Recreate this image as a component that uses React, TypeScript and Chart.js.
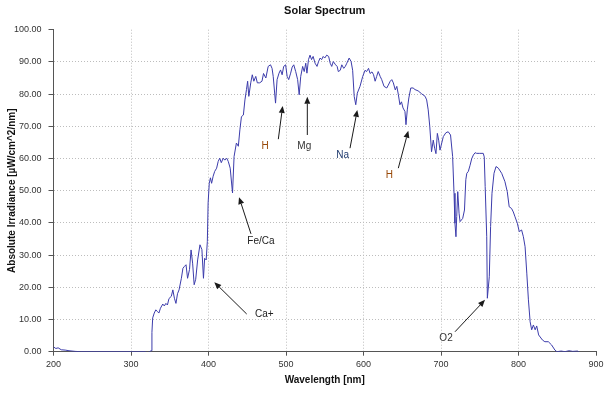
import React, { useEffect, useRef } from 'react';
import { Chart, registerables } from 'chart.js';

Chart.register(...registerables);

const chartTitle = 'Solar Spectrum';
const xTitle = 'Wavelength [nm]';
const yTitle = 'Absolute Irradiance [µW/cm^2/nm]';

const wavelengths = [
  200, 203, 206, 210, 215, 220, 228, 235, 300, 318, 321, 324, 326, 327, 328, 330, 332, 334, 336, 338,
  341, 343, 345, 347, 349, 352, 354, 356, 358, 360, 362, 365, 367, 369, 371, 373, 375.5, 377.5, 379.5, 381.5,
  383.5, 386, 389, 391.5, 393.5, 395, 397, 398.5, 399.5, 401, 402.5, 404, 406, 408, 410.5, 412.5, 414.5, 416.5, 419, 421,
  423.5, 425.5, 428, 431, 433, 436, 438.5, 440.5, 442.5, 445, 447, 449, 450.5, 452, 454.5, 456.5, 458.5, 461, 463, 466,
  469, 471, 474, 477, 480, 482, 483.5, 486.5, 488.5, 491, 493, 495, 497, 499.5, 501.5, 503.5, 506, 508, 510, 512.5,
  515, 517, 519, 521.5, 523.5, 525.5, 527, 529, 531, 533, 535, 537.5, 540, 542, 544, 546, 548, 550, 552.5, 555,
  557, 559, 561, 564, 566, 567.5, 570, 572, 574.5, 576.5, 578.5, 581.5, 584, 586, 588, 590, 592, 595.5, 599, 602,
  604, 606.5, 608.5, 611, 613, 615, 617, 619, 621.5, 623.5, 626.5, 630, 632, 634.5, 636.5, 638.5, 641, 643, 645, 647,
  649, 651, 653.5, 654.8, 656.5, 658.5, 661, 664, 666.5, 670.5, 675, 679.5, 681.5, 683.5, 685.5, 687.8, 690, 691.8, 693.5, 695.3,
  697, 698.7, 703, 706.3, 709.3, 712.3, 715, 716.8, 718, 719.3, 720.3, 721.6, 723.3, 724.6, 728, 730.3, 732, 733.3, 735.3, 737.5,
  739.7, 741.8, 744, 746, 750, 754.5, 755.8, 757, 759, 759.8, 762.3, 764, 765.8, 768.4, 771, 774, 778.3, 782.5, 785.5, 788,
  791, 793.3, 795.5, 798.5, 801, 804, 806.3, 808.5, 810.7, 812.8, 815, 817, 819.2, 821.5, 823.5, 826, 831, 834, 838.5, 842.7,
  847, 849.5, 855, 860, 865, 870, 876, 878
];

const irradiance = [
  1.5, 1.0, 1.2, 0.6, 0.5, 0.3, 0.1, 0, 0, 0, -0.3, 0, 0.3, 6, 10.5, 12.0, 13.0, 12.5, 12.0, 13.5,
  14.8, 14.2, 15.0, 14.5, 16.5, 17.2, 19.2, 16.6, 15.0, 18.0, 19.2, 22.8, 25.9, 26.5, 27.0, 22.8, 25.5, 31.6, 27.5, 20.8,
  22.5, 28.5, 33.2, 31.7, 22.8, 29.0, 28.5, 34.2, 46.2, 52.3, 54.0, 52.3, 54.5, 56.0, 57.0, 59.1, 60.1, 58.7, 60.1, 59.5,
  60.1, 59.1, 57.0, 49.3, 60.6, 64.8, 63.8, 68.9, 73.0, 73.5, 78.2, 81.4, 84.0, 79.3, 83.5, 86.0, 84.0, 85.5, 83.5, 83.5,
  84.0, 86.4, 85.0, 88.6, 89.1, 88.0, 85.5, 77.2, 84.5, 86.5, 87.5, 86.0, 88.6, 89.1, 85.5, 84.5, 86.5, 88.4, 89.1, 87.0,
  84.5, 79.8, 85.5, 88.6, 87.0, 89.6, 86.5, 90.7, 92.1, 90.7, 91.7, 89.6, 88.6, 90.1, 91.2, 90.7, 91.7, 91.2, 92.1, 91.7,
  89.6, 88.6, 90.1, 89.1, 88.6, 87.0, 87.4, 89.1, 88.0, 88.6, 89.6, 91.2, 90.1, 87.4, 79.3, 76.7, 80.3, 82.4, 85.5, 87.4,
  87.0, 88.0, 86.4, 86.9, 86.0, 84.0, 85.5, 87.0, 85.5, 84.5, 82.4, 81.9, 82.8, 84.0, 84.5, 83.5, 81.3, 82.4, 79.8, 76.7,
  77.6, 75.7, 74.6, 70.5, 75.1, 78.8, 81.9, 81.9, 81.4, 81.0, 80.1, 79.3, 78.2, 75.1, 70.0, 62.1, 65.7, 63.2, 61.5, 67.8,
  65.7, 62.6, 66.8, 68.0, 68.3, 67.3, 60.6, 49.2, 39.9, 35.7, 42.0, 49.7, 43.0, 40.4, 41.4, 44.0, 53.4, 55.4, 56.0, 57.9,
  60.0, 61.1, 61.8, 61.6, 61.6, 61.6, 60.5, 51.3, 35.7, 16.6, 23.3, 38.9, 49.2, 55.4, 57.5, 57.0, 55.4, 52.8, 49.7, 45.0,
  44.5, 43.4, 41.9, 39.9, 37.3, 37.8, 35.7, 32.6, 24.4, 16.1, 9.3, 6.8, 8.3, 6.8, 8.0, 5.2, 3.6, 3.1, 3.1, 2.1,
  0.5, 0, 0.2, 0, 0.3, 0.1, 0.2, 0
];

const xTickValues = [200, 300, 400, 500, 600, 700, 800, 900];

// Annotations: label, label anchor (nm, value), arrow tail, arrow tip (data units)
const noteLabels = ['Ca+', 'Fe/Ca', 'H', 'Mg', 'Na', 'H', 'O2'];
const noteText: [number, number][] = [[472, 11.7], [467.7, 34.2], [472.9, 63.7], [523.6, 63.7], [573.2, 61.1], [633.3, 54.9], [706.5, 4.2]];
const noteTail: [number, number][] = [[449.3, 11.7], [454.8, 36.6], [490.1, 66.0], [527.5, 67.3], [582.6, 63.2], [644.9, 57.0], [718.1, 6.2]];
const noteTip: [number, number][] = [[407.5, 21.6], [439.4, 48.0], [495.7, 76.3], [527.5, 79.2], [592.0, 75.1], [657.8, 68.6], [756.8, 16.1]];
const noteColors = ['#222222', '#222222', '#984807', '#333333', '#1f3a6e', '#984807', '#333333'];

const FONT = '"Liberation Sans", Arial, sans-serif';

const notesPlugin = {
  id: 'spectrumNotes',
  afterDatasetsDraw(chart: any) {
    const { ctx, scales } = chart;
    const xs = scales.x;
    const ys = scales.y;
    ctx.save();
    noteLabels.forEach((label, i) => {
      const tx = xs.getPixelForValue(noteTail[i][0]);
      const ty = ys.getPixelForValue(noteTail[i][1]);
      const px = xs.getPixelForValue(noteTip[i][0]);
      const py = ys.getPixelForValue(noteTip[i][1]);
      const ang = Math.atan2(py - ty, px - tx);
      const headLen = 7;
      const headW = 3;
      const bx = px - headLen * Math.cos(ang);
      const by = py - headLen * Math.sin(ang);
      ctx.strokeStyle = '#1a1a1a';
      ctx.fillStyle = '#1a1a1a';
      ctx.lineWidth = 1;
      ctx.beginPath();
      ctx.moveTo(tx, ty);
      ctx.lineTo(bx, by);
      ctx.stroke();
      ctx.beginPath();
      ctx.moveTo(px, py);
      ctx.lineTo(bx + headW * Math.sin(ang), by - headW * Math.cos(ang));
      ctx.lineTo(bx - headW * Math.sin(ang), by + headW * Math.cos(ang));
      ctx.closePath();
      ctx.fill();
      ctx.fillStyle = noteColors[i];
      ctx.font = `10px ${FONT}`;
      ctx.textAlign = 'center';
      ctx.textBaseline = 'middle';
      ctx.fillText(label, xs.getPixelForValue(noteText[i][0]), ys.getPixelForValue(noteText[i][1]));
    });
    ctx.restore();
  },
};

export default function App() {
  const canvasRef = useRef<HTMLCanvasElement | null>(null);

  useEffect(() => {
    document.body.style.margin = '0';
    const canvas = canvasRef.current;
    if (!canvas) return;
    const chart = new Chart(canvas, {
      type: 'line',
      data: {
        datasets: [
          {
            label: 'Irradiance',
            data: wavelengths.map((w, i) => ({ x: w, y: irradiance[i] })),
            borderColor: '#3c3cab',
            borderWidth: 1,
            pointRadius: 0,
            tension: 0,
            fill: false,
          },
        ],
      },
      options: {
        animation: false,
        responsive: true,
        maintainAspectRatio: false,
        layout: { padding: { left: 0, right: 14, top: 0, bottom: 0 } },
        plugins: {
          legend: { display: false },
          tooltip: { enabled: false },
          title: {
            display: true,
            text: chartTitle,
            fullSize: false,
            color: '#111',
            font: { family: FONT, size: 11, weight: 'bold', lineHeight: 1.2 },
            padding: { top: 4, bottom: 12.5 },
          },
        },
        scales: {
          x: {
            type: 'linear',
            min: 200,
            max: 900,
            afterBuildTicks: (scale: any) => {
              scale.ticks = xTickValues.map((v) => ({ value: v }));
            },
            afterFit: (scale: any) => {
              scale.height = 42.3;
            },
            ticks: {
              color: '#333',
              font: { family: FONT, size: 9 },
              padding: 3,
              maxRotation: 0,
              callback: (v: any) => String(v),
            },
            grid: {
              color: (c: any) => (c.tick && (c.tick.value === 200 || c.tick.value === 900) ? 'rgba(0,0,0,0)' : '#bdbdbd'),
              tickColor: '#555',
              tickLength: 4,
              lineWidth: 1,
            },
            border: { display: true, color: '#555', width: 1, dash: [1, 2] },
            title: {
              display: true,
              text: xTitle,
              color: '#111',
              font: { family: FONT, size: 10, weight: 'bold', lineHeight: 1.2 },
              padding: { top: 8, bottom: 8 },
            },
          },
          y: {
            type: 'linear',
            min: 0,
            max: 100,
            afterFit: (scale: any) => {
              scale.width = 53.5;
            },
            ticks: {
              stepSize: 10,
              color: '#333',
              font: { family: FONT, size: 9 },
              padding: 7,
              callback: (v: any) => Number(v).toFixed(2),
            },
            grid: {
              color: (c: any) => (c.tick && (c.tick.value === 0 || c.tick.value === 100) ? 'rgba(0,0,0,0)' : '#bdbdbd'),
              tickColor: '#555',
              tickLength: 5,
              lineWidth: 1,
            },
            border: { display: true, color: '#555', width: 1, dash: [1, 2] },
            title: {
              display: true,
              text: yTitle,
              color: '#111',
              font: { family: FONT, size: 10, weight: 'bold', lineHeight: 1.2 },
              padding: { top: 6, bottom: 6 },
            },
          },
        },
      },
      plugins: [notesPlugin],
    });
    return () => chart.destroy();
  }, []);

  return (
    <div style={{ position: 'relative', width: '610px', height: '394px', background: '#fff' }}>
      <canvas ref={canvasRef} />
    </div>
  );
}
